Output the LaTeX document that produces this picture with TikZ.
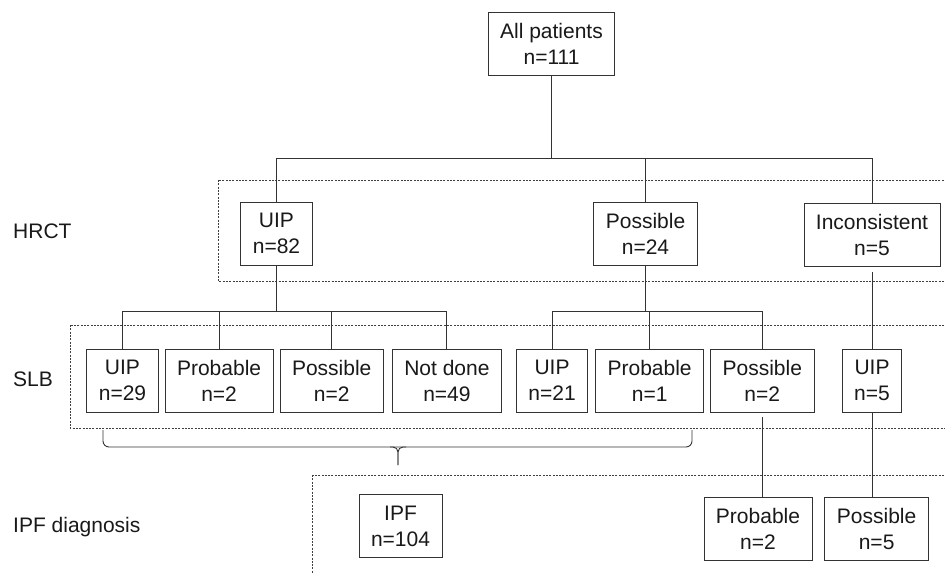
\documentclass[tikz,border=0pt]{standalone}
\usepackage{fontspec}
\setmainfont{Liberation Sans}
\usetikzlibrary{positioning}

\begin{document}
\begin{tikzpicture}[
    x=1pt, y=-1pt,
    box/.style={rectangle, draw=black!80, line width=0.9pt, align=center, inner xsep=12pt, minimum height=63pt, fill=white, text=black!90, font=\fontsize{21}{26}\selectfont},
    lbl/.style={anchor=base west, inner sep=0pt, text=black!90, font=\fontsize{21}{26}\selectfont},
    line/.style={draw, black!80, line width=0.9pt},
    region/.style={draw=black!75, line width=0.8pt, dash pattern=on 2pt off 1.3pt}
]
\clip (0,0) rectangle (945,573);

% Stage regions
\draw[region] (218,180) rectangle (960,281);
\draw[region] (70,325) rectangle (960,428);
\draw[region] (312,475) rectangle (960,600);

% Stage labels
\node[lbl] (hrctlbl) at (13,238) {HRCT};
\node[lbl] (slblbl) at (13,386) {SLB};
\node[lbl] (ipflbl) at (13,532) {IPF diagnosis};

% Nodes
\node[box] (all) at (551.5,44) {All patients\\n=111};

\node[box] (hrctuip) at (276.5,233.5) {UIP\\n=82};
\node[box] (hrctpos) at (645.5,233.5) {Possible\\n=24};
\node[box] (hrctinc) at (872,234.5) {Inconsistent\\n=5};

\node[box] (slb1) at (122.5,380.5) {UIP\\n=29};
\node[box, right=6pt of slb1] (slb2) {Probable\\n=2};
\node[box, right=6pt of slb2] (slb3) {Possible\\n=2};
\node[box, right=8pt of slb3] (slb4) {Not done\\n=49};
\node[box, right=14pt of slb4] (slb5) {UIP\\n=21};
\node[box, right=7pt of slb5] (slb6) {Probable\\n=1};
\node[box, right=6pt of slb6] (slb7) {Possible\\n=2};
\node[box] (slb8) at (872,380.5) {UIP\\n=5};

\node[box] (ipf) at (400.5,526) {IPF\\n=104};
\node[box] (ipfprob) at (758,528.5) {Probable\\n=2};
\node[box, right=12pt of ipfprob] (ipfposs) {Possible\\n=5};

% Bus lines
\coordinate (hbus) at (0,158);
\coordinate (sbus) at (0,311);

% Connections
\draw[line] (all.south) -- (all.south |- hbus);
\draw[line] (hrctuip.north) |- (hrctinc.north |- hbus) -- (hrctinc.north);
\draw[line] (hrctpos.north) -- (hrctpos.north |- hbus);

\draw[line] (hrctuip.south) -- (hrctuip.south |- sbus);
\draw[line] (slb1.north) |- (slb4.north |- sbus) -- (slb4.north);
\draw[line] (slb2.north) -- (slb2.north |- sbus);
\draw[line] (slb3.north) -- (slb3.north |- sbus);

\draw[line] (hrctpos.south) -- (hrctpos.south |- sbus);
\draw[line] (slb5.north) |- (slb7.north |- sbus) -- (slb7.north);
\draw[line] (slb6.north) -- (slb6.north |- sbus);

\draw[line, shorten <=6pt] (hrctinc.south) -- (hrctinc.south |- slb8.north);
\draw[line, shorten <=5pt] (slb7.south) -- (slb7.south |- ipfprob.north);
\draw[line] (slb8.south) -- (slb8.south |- ipfposs.north);

% Brace
\coordinate (brl) at (103,430);
\coordinate (brr) at (692,430);
\coordinate (brtip) at (398,465);
\draw[line, rounded corners=6pt] (brl) -- (103,447) -- (692,447) -- (brr);
\draw[line, rounded corners=5pt] (390,447) -| (brtip);
\draw[line, rounded corners=5pt] (406,447) -| (brtip);

\end{tikzpicture}
\end{document}
